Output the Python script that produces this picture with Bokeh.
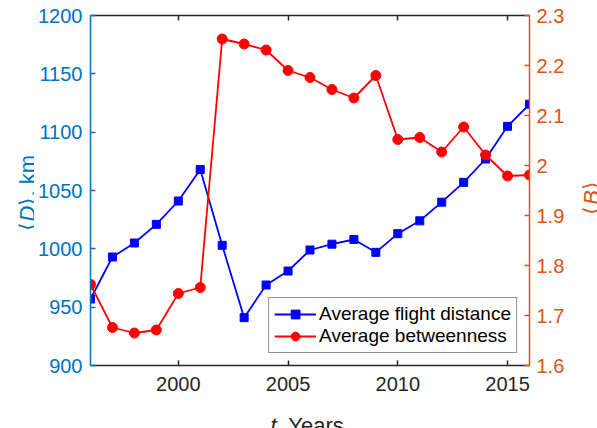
import math
from bokeh.plotting import figure
from bokeh.layouts import row, column
from bokeh.models import (Range1d, LinearAxis, FixedTicker, Legend, LegendItem,
                          Label, CustomJSTickFormatter)
from bokeh.embed import file_html
from bokeh.resources import INLINE

# ---------------- data ----------------
years = [1996, 1997, 1998, 1999, 2000, 2001, 2002, 2003, 2004, 2005, 2006,
         2007, 2008, 2009, 2010, 2011, 2012, 2013, 2014, 2015, 2016]
flight_distance = [957, 993, 1005, 1021, 1041, 1068, 1003, 941, 969, 981, 999,
                   1004, 1008, 997, 1013, 1024, 1040, 1057, 1077, 1105, 1124]
betweenness = [1.762, 1.676, 1.665, 1.671, 1.744, 1.756, 2.253, 2.243, 2.231,
               2.190, 2.176, 2.152, 2.135, 2.180, 2.052, 2.056, 2.027, 2.077,
               2.021, 1.979, 1.981]
x_ticks = [2000, 2005, 2010, 2015]
d_ticks = [900, 950, 1000, 1050, 1100, 1150, 1200]
b_ticks = [1.6, 1.7, 1.8, 1.9, 2.0, 2.1, 2.2, 2.3]
series_labels = ["Average flight distance", "Average betweenness"]

# ---------------- style ----------------
FONT = "Liberation Sans"
BLUE_AX = "#0072BD"
ORANGE_AX = "#D95319"
DARK = "#262626"
X0, X1 = 1996, 2016
D0, D1 = 900, 1200
B0, B1 = 1.6, 2.3

W, H = 597, 428
LEFT_W, RIGHT_W = 34, 27          # strips that hold the y titles
MAIN_H = 410                      # height of the main plot row
FL, FT, FW, FH = 90, 15, 439, 350  # frame placement on the whole page

p = figure(frame_width=FW, frame_height=FH, title=None,
           min_border_left=FL - LEFT_W, min_border_top=FT,
           min_border_right=W - RIGHT_W - FL - FW,
           min_border_bottom=MAIN_H - FT - FH,
           x_range=Range1d(X0, X1), y_range=Range1d(D0, D1),
           output_backend="svg", toolbar_location=None)
p.extra_y_ranges = {"B": Range1d(B0, B1)}
p.outline_line_color = None
p.xgrid.visible = False
p.ygrid.visible = False
p.background_fill_color = "white"
p.border_fill_color = "white"


def style_axis(ax, color, ticks, show_labels=True):
    ax.ticker = FixedTicker(ticks=ticks)
    ax.axis_line_color = color
    ax.axis_line_width = 1.5
    ax.major_tick_line_color = color
    ax.major_tick_line_width = 1.5
    ax.major_tick_in = 5
    ax.major_tick_out = 0
    ax.minor_tick_in = 0
    ax.minor_tick_out = 0
    ax.minor_tick_line_color = None
    ax.major_label_text_color = color
    ax.major_label_text_font = FONT
    if show_labels:
        ax.major_label_text_font_size = "20px"
    else:
        ax.major_label_text_color = None
        ax.major_label_text_font_size = "1px"
        ax.major_label_standoff = 0


style_axis(p.yaxis[0], BLUE_AX, d_ticks)
p.yaxis[0].major_label_standoff = 8
style_axis(p.xaxis[0], DARK, x_ticks)
p.xaxis[0].major_label_standoff = 11

right = LinearAxis(y_range_name="B")
style_axis(right, ORANGE_AX, b_ticks)
right.formatter = CustomJSTickFormatter(code="return String(Number(tick.toFixed(1)));")
right.major_label_standoff = 7
p.add_layout(right, "right")

top = LinearAxis()
style_axis(top, DARK, x_ticks, show_labels=False)
p.add_layout(top, "above")

# ---------------- series ----------------
bl = p.line(years, flight_distance, line_color="#0000FF", line_width=1.8)
bs = p.scatter(years, flight_distance, marker="square", size=8,
               fill_color="#0000FF", line_color="#0000FF")
rl = p.line(years, betweenness, line_color="#FF0000", line_width=1.8,
            y_range_name="B")
rs = p.scatter(years, betweenness, marker="circle", size=10,
               fill_color="#FF0000", line_color="#FF0000", y_range_name="B")

legend = Legend(items=[LegendItem(label=series_labels[0], renderers=[bl, bs]),
                       LegendItem(label=series_labels[1], renderers=[rl, rs])],
                location="bottom_right", margin=12, padding=5, spacing=0,
                glyph_width=42, glyph_height=22, label_height=22,
                label_standoff=3, label_text_font_size="19px",
                label_text_font=FONT, label_text_color="black",
                border_line_color=DARK, border_line_width=1.5,
                background_fill_color="white", background_fill_alpha=1.0)
p.add_layout(legend)


# ---------------- axis titles (mixed italic) in small text strips ----------------
def strip(w, h):
    f = figure(width=w, height=h, title=None,
               x_range=Range1d(0, 1), y_range=Range1d(0, 1),
               output_backend="svg", toolbar_location=None,
               min_border_left=0, min_border_right=0,
               min_border_top=0, min_border_bottom=0,
               x_axis_location=None, y_axis_location=None)
    f.outline_line_color = None
    f.grid.visible = False
    f.background_fill_color = "white"
    f.border_fill_color = "white"
    return f


def lab(f, text, px, py, color, align, style="normal", angle=0.0):
    f.add_layout(Label(x=px, y=py, x_units="canvas", y_units="canvas",
                       text=text, text_font=FONT, text_font_size="22px",
                       text_color=color, text_align=align, text_font_style=style,
                       text_baseline="alphabetic", angle=angle))


up = math.pi / 2

# left title: "<D>, km"
left_strip = strip(LEFT_W, MAIN_H)
lab(left_strip, "⟨", 27, 221, BLUE_AX, "right", angle=up)
lab(left_strip, "D", 27, 213, BLUE_AX, "center", "italic", angle=up)
lab(left_strip, "⟩, km", 27, 205, BLUE_AX, "left", angle=up)

# right title: "<B>"
right_strip = strip(RIGHT_W, MAIN_H)
rx = 591 - (W - RIGHT_W)
lab(right_strip, "⟨", rx, 205, ORANGE_AX, "right", angle=up)
lab(right_strip, "B", rx, 197, ORANGE_AX, "center", "italic", angle=up)
lab(right_strip, "⟩", rx, 189, ORANGE_AX, "left", angle=up)

# x title: "t, Years"
bottom_strip = strip(W, H - MAIN_H)
lab(bottom_strip, "t", 276, 425 - MAIN_H, DARK, "right", "italic")
lab(bottom_strip, ", Years", 276, 425 - MAIN_H, DARK, "left")

page = column(row(left_strip, p, right_strip, spacing=0), bottom_strip, spacing=0)

open("out.html", "w").write(file_html(page, INLINE))
